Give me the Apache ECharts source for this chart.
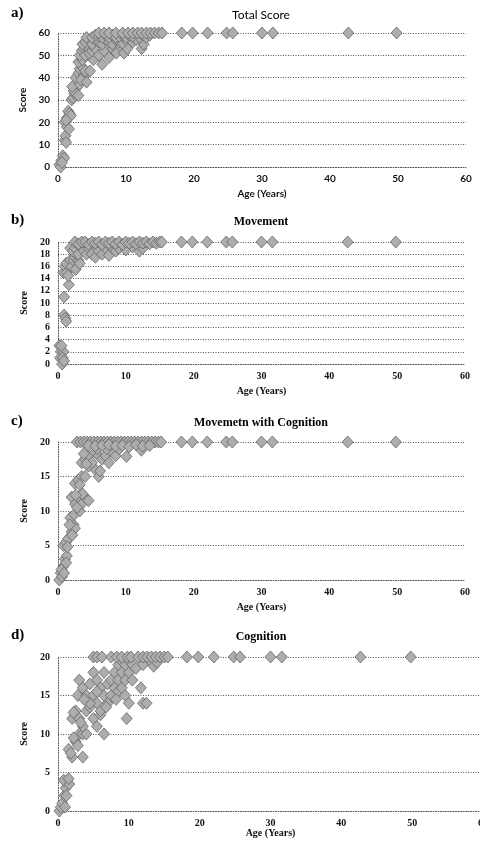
<!DOCTYPE html>
<html>
<head>
<meta charset="utf-8">
<style>
  html, body { margin: 0; padding: 0; background: #fff; }
  #chart { width: 480px; height: 843px; }
</style>
<script src="https://cdn.jsdelivr.net/npm/echarts@6/dist/echarts.min.js"></script>
</head>
<body>
<div id="chart"></div>
<script>
// age ticks shared by all panels
const ageTicks = [0, 10, 20, 30, 40, 50, 60];

// adults, all at the ceiling score
const adultAges = [18.2, 19.8, 22, 24.8, 25.7, 30, 31.6, 42.7, 49.8];

// a) total score, [age, score]
const totalScore = [
  [0.2, 1], [0.4, 0], [0.5, 3], [0.7, 5], [0.9, 4], [0.6, 2],
  [1, 12], [1.1, 14], [1.2, 11], [1, 20], [1.3, 22], [1.5, 25], [1.7, 24], [1.3, 18], [1.6, 17], [1.9, 23], [1.2, 21],
  [2, 30], [2.2, 31], [2.4, 33], [2.6, 35], [2.8, 36], [2.3, 34], [3, 32], [2.1, 36], [3.2, 37],
  [2.6, 40], [3, 42], [3.2, 44], [3.5, 45], [3.8, 41], [4, 43], [3.4, 39], [4.2, 38], [3, 47], [3.6, 48],
  [4.7, 43], [5.2, 48], [6.5, 46],
  [3.2, 50], [3.5, 52], [3.8, 53], [4, 50], [4.3, 54], [4.6, 51], [5, 52], [5.5, 53], [6, 50], [6.8, 52], [7.5, 49],
  [8, 53], [8.6, 51], [9.2, 54], [9.7, 51], [10.2, 53], [12.3, 53], [12.6, 55],
  [3.6, 55], [4, 56], [4.5, 57], [5, 55], [5.5, 57], [6, 56], [6.5, 55], [7, 57], [7.5, 56], [8, 55], [8.5, 57],
  [9, 56], [9.5, 55.5], [10, 57], [11, 56], [11.5, 57], [4.2, 58],
  [5, 58], [5.5, 59], [6, 58.5], [6.5, 58], [7, 59], [7.5, 58], [8, 59], [8.5, 58], [9, 58.5], [9.5, 59], [10, 58],
  [10.5, 59], [11, 58.5], [12, 58], [12.5, 59], [13, 58], [13.5, 59],
  [6, 60], [6.8, 60], [7.5, 60], [8.5, 60], [9.5, 60], [10.3, 60], [11, 60], [11.7, 60], [12.3, 60], [13, 60],
  [13.6, 60], [14.2, 60], [14.8, 60], [15.3, 60]
];

// b) movement
const movement = [
  [0.2, 3], [0.4, 2], [0.3, 1], [0.6, 0], [0.8, 2], [0.5, 3], [0.7, 1], [0.9, 0.5],
  [0.9, 8], [1.1, 7.5], [1.2, 7], [0.9, 11], [1.6, 13],
  [0.8, 15], [1, 16], [1.3, 15], [1.5, 14.5], [1.2, 16.5], [1.8, 17], [2, 16], [2.3, 17], [2.6, 15.5], [2.5, 17.5],
  [3, 17], [3.2, 16.5], [2.8, 18],
  [1.8, 19], [2.2, 18.5], [2.5, 19], [3, 18], [3.5, 19], [3.8, 18.5], [4.2, 18], [4.5, 19], [5, 18], [5.5, 17.5],
  [6, 18.5], [6.5, 18], [7, 19], [7.5, 17.8], [8, 19], [8.5, 18.5], [9, 19], [10, 18.7], [11, 19.2], [12, 18.5], [12.5, 19],
  [2.5, 20], [3, 19.7], [3.5, 20], [4, 20], [4.5, 19.6], [5, 20], [5.5, 19.8], [6, 20], [6.5, 19.6], [7, 20],
  [7.5, 19.8], [8, 20], [8.5, 19.7], [9, 20], [9.5, 19.6], [10, 20], [10.5, 19.8], [11, 20], [11.5, 19.7], [12, 20],
  [12.5, 19.8], [13, 20], [13.5, 19.7], [14, 20], [14.5, 19.8], [15, 20], [15.3, 20]
];

// c) movement with cognition
const movementCognition = [
  [0.2, 0], [0.4, 1], [0.6, 0.5], [0.8, 2], [1, 3], [1.3, 3.5], [0.5, 1.5], [1.2, 2.5], [0.9, 1],
  [0.8, 5], [1.2, 5.5], [1.5, 6], [1.4, 4.8], [2, 7], [2.3, 8], [2.5, 7.5], [1.8, 9], [2.1, 6.5], [2.4, 9.5], [1.7, 8],
  [2, 12], [2.5, 11], [3, 12], [3.5, 11], [4, 12], [4.5, 11.5], [3.2, 10], [2.8, 10.5], [3.6, 12.5], [2.6, 12.3],
  [2.5, 14], [3, 14.5], [3.5, 15], [4, 15], [5.5, 16], [6, 15], [4.5, 16.5], [6.2, 15.8], [3.2, 13.8],
  [3.5, 17], [4, 17.5], [4.5, 18], [5, 17], [5.5, 18.5], [6, 18], [6.5, 17.5], [7, 18], [7.5, 17], [8, 18.5],
  [8.5, 18], [9, 19], [10.1, 17.9], [12.3, 18.8], [4.2, 16.8], [5.8, 19], [7.2, 19], [3.8, 18.3],
  [2.8, 20], [3.3, 20], [3.8, 20], [4.3, 20], [4.8, 20], [5.3, 20], [5.8, 20], [6.3, 20], [6.8, 20], [7.3, 20],
  [7.8, 20], [8.3, 20], [8.8, 20], [9.3, 20], [9.8, 20], [10.3, 20], [10.8, 20], [11.3, 20], [11.8, 20], [12.3, 20],
  [12.8, 20], [13.3, 20], [13.8, 20], [14.3, 20], [14.8, 20], [15.2, 20],
  [4.5, 19.5], [5.5, 19.4], [6.5, 19.5], [7.5, 19.6], [8.5, 19.4], [9.5, 19.5], [10.5, 19.3], [11.5, 19.6],
  [12.5, 19.4], [13.5, 19.5]
];

// d) cognition
const cognition = [
  [0.2, 0], [0.4, 0.5], [0.6, 1], [0.9, 2], [1.1, 3], [1.3, 4], [0.8, 4], [1.6, 3.5], [1, 0.5], [1.5, 4.2], [1.2, 2],
  [1.5, 8], [2, 7], [3.5, 7], [2.5, 9], [3, 10], [3.5, 10], [4, 10], [2.2, 9.5], [1.8, 7.5], [2.8, 8.5], [6.5, 10],
  [2, 12], [2.5, 13], [3, 12], [3.5, 11], [4, 13], [5, 12], [5.5, 11], [6, 12.5], [4.5, 13.5], [2.2, 12.8], [3.2, 11.5], [9.7, 12],
  [2.8, 15], [3, 17], [3.5, 16], [4, 15], [4.5, 16.5], [5, 18], [5, 15], [5.5, 14], [5.5, 17], [6, 16], [6, 13],
  [6.5, 18], [6.5, 15], [7, 14], [7, 16.5], [7.5, 17], [7.5, 15], [8, 16], [8, 18], [8.5, 17], [8.5, 15.5], [9, 18],
  [9, 16], [9.5, 17], [9.5, 15], [10, 18], [10, 14], [10.5, 17], [4.5, 14], [5.5, 15.5], [6.8, 13.5], [11.7, 16],
  [12, 14], [12.5, 14], [3.7, 14.5], [8.2, 14.5],
  [8.5, 19], [9, 19.5], [9.5, 19], [10, 19.5], [10.5, 19], [11, 18.5], [12, 19], [13, 19.5], [13.5, 18.8], [14, 19.3],
  [5, 20], [5.5, 20], [6.2, 20], [7.5, 20], [8.3, 20], [9, 20], [9.8, 20], [10.3, 20], [11.3, 20], [12, 20],
  [12.6, 20], [13.2, 20], [13.8, 20], [14.4, 20], [15, 20], [15.5, 20]
];

const panels = [
  { tag: 'a)', title: 'Total Score', data: totalScore, max: 60, step: 10, top: 33, height: 134, width: 408, titleY: 15, nameGap: 22, serif: false },
  { tag: 'b)', title: 'Movement', data: movement, max: 20, step: 2, top: 242, height: 122, width: 407, titleY: 222, nameGap: 22, serif: true },
  { tag: 'c)', title: 'Movemetn with Cognition', data: movementCognition, max: 20, step: 5, top: 442, height: 138, width: 407, titleY: 423, nameGap: 22, serif: true },
  { tag: 'd)', title: 'Cognition', data: cognition, max: 20, step: 5, top: 657, height: 154, width: 425, titleY: 637, nameGap: 15, serif: true }
];

const serifFont = '"Liberation Serif", "DejaVu Serif", serif';
const sansFont = 'Lato, "Open Sans", sans-serif';

const dotted = { type: [1, 1.5], color: '#555', width: 1 };

const chart = echarts.init(document.getElementById('chart'));

const grid = [], xAxis = [], yAxis = [], series = [], graphic = [];

panels.forEach((p, i) => {
  const font = p.serif ? serifFont : sansFont;
  // the last panel runs past the right edge, so no label fitting
  grid.push({ left: 58, top: p.top, width: p.width, height: p.height, outerBoundsMode: 'none', containLabel: false });
  xAxis.push({
    gridIndex: i, type: 'value', min: ageTicks[0], max: ageTicks[ageTicks.length - 1], interval: 10,
    name: 'Age (Years)', nameLocation: 'middle', nameGap: p.nameGap,
    nameTextStyle: { fontFamily: font, fontSize: 10, fontWeight: 'bold', color: '#111' },
    axisLine: { lineStyle: dotted },
    axisTick: { show: false },
    axisLabel: { fontFamily: font, fontSize: 10, fontWeight: 'bold', color: '#111', margin: 7 },
    splitLine: { show: false }
  });
  yAxis.push({
    gridIndex: i, type: 'value', min: 0, max: p.max, interval: p.step,
    name: 'Score', nameLocation: 'middle', nameRotate: 90, nameGap: 22,
    nameTextStyle: { fontFamily: font, fontSize: 10, fontWeight: 'bold', color: '#111' },
    axisLine: { show: true, lineStyle: dotted },
    axisTick: { show: false },
    axisLabel: { fontFamily: font, fontSize: 10, fontWeight: 'bold', color: '#111', margin: 8 },
    splitLine: { show: true, lineStyle: dotted }
  });
  series.push({
    type: 'scatter', xAxisIndex: i, yAxisIndex: i,
    data: p.data.concat(adultAges.map(a => [a, p.max])),
    symbol: 'diamond', symbolSize: [11, 12],
    itemStyle: { color: '#adadad', borderColor: '#666', borderWidth: 0.8, opacity: 1 }
  });
  graphic.push({
    type: 'text', left: 11, top: p.titleY - 9,
    style: { text: p.tag, font: 'bold 15px ' + serifFont, fill: '#000' }
  });
  graphic.push({
    type: 'text', x: 261, y: p.titleY,
    style: {
      text: p.title, textAlign: 'center', textVerticalAlign: 'middle',
      font: (p.serif ? 'bold 12px ' : '12px ') + font, fill: '#000'
    }
  });
});

chart.setOption({
  animation: false,
  grid, xAxis, yAxis, series, graphic
});
</script>
</body>
</html>
